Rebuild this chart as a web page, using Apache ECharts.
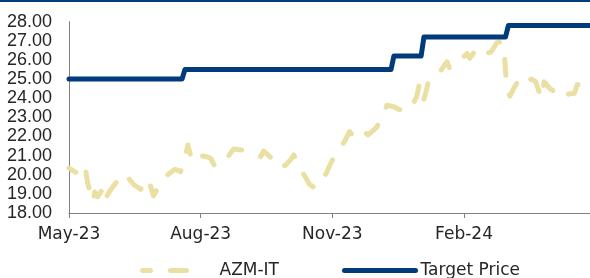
<!DOCTYPE html>
<html>
<head>
<meta charset="utf-8">
<script src="https://cdn.jsdelivr.net/npm/echarts@6/dist/echarts.min.js"></script>
<style>
  html, body { margin: 0; padding: 0; background: #fff; }
  #chart { width: 590px; height: 278px; }
</style>
</head>
<body>
<div id="chart"></div>
<script>
// tick labels on the date axis (every 3 months from May-23)
const tickLabels = ['May-23', 'Aug-23', 'Nov-23', 'Feb-24']
const tickDates = ['2023-05-01', '2023-08-01', '2023-11-01', '2024-02-01']

// AZM-IT share price
const priceDates = [
  '2023-05-01', '2023-05-04', '2023-05-07', '2023-05-09', '2023-05-12', '2023-05-14', '2023-05-16', '2023-05-18',
  '2023-05-19', '2023-05-21', '2023-05-25', '2023-05-26', '2023-05-30', '2023-06-03', '2023-06-06', '2023-06-08',
  '2023-06-11', '2023-06-15', '2023-06-20', '2023-06-24', '2023-06-27', '2023-06-29', '2023-07-02', '2023-07-05',
  '2023-07-09', '2023-07-14', '2023-07-18', '2023-07-20', '2023-07-22', '2023-07-23', '2023-07-26', '2023-07-28',
  '2023-08-01', '2023-08-05', '2023-08-08', '2023-08-11', '2023-08-16', '2023-08-20', '2023-08-24', '2023-08-30',
  '2023-09-03', '2023-09-08', '2023-09-12', '2023-09-14', '2023-09-19', '2023-09-24', '2023-09-26', '2023-09-30',
  '2023-10-03', '2023-10-05', '2023-10-07', '2023-10-09', '2023-10-13', '2023-10-16', '2023-10-20', '2023-10-25',
  '2023-10-28', '2023-10-30', '2023-11-02', '2023-11-05', '2023-11-08', '2023-11-10', '2023-11-13', '2023-11-17',
  '2023-11-20', '2023-11-23', '2023-11-26', '2023-12-02', '2023-12-04', '2023-12-07', '2023-12-09', '2023-12-14',
  '2023-12-18', '2023-12-23', '2023-12-27', '2023-12-30', '2024-01-01', '2024-01-03', '2024-01-04', '2024-01-06',
  '2024-01-07', '2024-01-12', '2024-01-16', '2024-01-20', '2024-01-22', '2024-01-26', '2024-01-29', '2024-02-03',
  '2024-02-05', '2024-02-10', '2024-02-12', '2024-02-16', '2024-02-20', '2024-02-24', '2024-02-27', '2024-02-29',
  '2024-03-01', '2024-03-02', '2024-03-04', '2024-03-07', '2024-03-09', '2024-03-11', '2024-03-14', '2024-03-16',
  '2024-03-19', '2024-03-22', '2024-03-26', '2024-03-28', '2024-04-01', '2024-04-05', '2024-04-08', '2024-04-11',
  '2024-04-14', '2024-04-16', '2024-04-18', '2024-04-20', '2024-04-25'
]
const priceValues = [
  20.35, 20.2, 20.08, 20.3, 20.5, 19.6, 19.0, 18.6,
  19.1, 18.85, 19.3, 18.7, 19.2, 19.6, 19.9, 20.07,
  19.87, 19.5, 19.24, 19.8, 19.4, 18.9, 19.3, 19.7,
  20.0, 20.28, 20.16, 20.68, 21.2, 21.55, 20.7, 20.9,
  21.0, 20.94, 20.86, 20.42, 20.7, 20.94, 21.34, 21.29,
  21.2, 21.12, 20.94, 21.24, 20.9, 20.6, 20.34, 20.55,
  20.8, 21.03, 20.7, 20.34, 19.9, 19.5, 19.29, 19.78,
  20.1, 20.46, 20.9, 21.29, 21.55, 21.81, 22.25, 21.9,
  22.1, 22.25, 22.08, 22.48, 22.8, 23.17, 23.63, 23.55,
  23.4, 23.3, 23.64, 24.1, 24.8, 24.3, 23.95, 24.5,
  24.9, 25.2, 25.47, 25.9, 25.56, 25.7, 25.95, 26.34,
  26.08, 26.6, 26.43, 26.3, 26.43, 26.9, 26.95, 26.5,
  25.4, 24.5, 24.1, 24.55, 24.8, 24.95, 24.7, 24.9,
  25.0, 24.86, 24.0, 24.85, 24.5, 24.3, 24.25, 24.0,
  24.22, 24.25, 24.25, 24.7, 24.78
]

// target price steps
const targetDates = ['2023-05-01', '2023-07-19', '2023-07-21', '2023-12-12', '2023-12-14', '2024-01-02', '2024-01-04', '2024-03-01', '2024-03-03', '2024-04-29']
const targetValues = [25.0, 25.0, 25.5, 25.5, 26.2, 26.2, 27.2, 27.2, 27.8, 27.8]

const DAY = 86400000
const START = Date.parse('2023-05-01')
function dayOf (s) {
  return Math.round((Date.parse(s) - START) / DAY)
}
function pairs (dates, values) {
  return dates.map((d, i) => [dayOf(d), values[i]])
}
const tickDays = tickDates.map(dayOf)

const textColor = '#262626'
const axisColor = '#808080'
const navy = '#023B7B'
const sand = '#EAE0A3'
const sandDash = [16, 20]

const chart = echarts.init(document.getElementById('chart'), null, { renderer: 'canvas' })
chart.setOption({
  animation: false,
  backgroundColor: '#fff',
  graphic: [{
    type: 'rect',
    left: 0,
    top: 0,
    shape: { width: 590, height: 2 },
    style: { fill: navy }
  }],
  grid: {
    left: 69,
    right: 0,
    top: 21.6,
    bottom: 65,
    containLabel: false
  },
  legend: [
    {
      data: ['AZM-IT'],
      left: 140,
      top: 262,
      padding: 0,
      itemWidth: 57,
      itemHeight: 16,
      itemStyle: { opacity: 0 },
      lineStyle: { width: 5, type: sandDash, cap: 'round' },
      textStyle: { color: textColor, fontFamily: 'DejaVu Sans', fontSize: 17, padding: [0, 0, 0, 15] }
    },
    {
      data: ['Target Price'],
      left: 342,
      top: 262,
      padding: 0,
      itemWidth: 71,
      itemHeight: 16,
      itemStyle: { opacity: 0 },
      lineStyle: { width: 5, cap: 'round' },
      textStyle: { color: textColor, fontFamily: 'DejaVu Sans', fontSize: 17 }
    }
  ],
  xAxis: {
    type: 'value',
    min: 0,
    max: dayOf('2024-04-29'),
    splitLine: { show: false },
    axisLine: { lineStyle: { color: axisColor, width: 1 } },
    axisTick: {
      show: true,
      customValues: tickDays,
      length: 5,
      lineStyle: { color: axisColor }
    },
    axisLabel: {
      customValues: tickDays,
      margin: 13,
      color: textColor,
      fontFamily: 'DejaVu Sans',
      fontSize: 17,
      formatter: function (v) {
        const i = tickDays.indexOf(Math.round(v))
        return i >= 0 ? tickLabels[i] : ''
      }
    }
  },
  yAxis: {
    type: 'value',
    min: 18,
    max: 28,
    interval: 1,
    splitLine: { show: false },
    axisLine: { show: true, lineStyle: { color: axisColor, width: 1 } },
    axisTick: { show: false },
    axisLabel: {
      margin: 17,
      color: textColor,
      fontFamily: 'Liberation Sans',
      fontSize: 18,
      formatter: v => v.toFixed(2)
    }
  },
  series: [
    {
      name: 'AZM-IT',
      type: 'line',
      symbol: 'none',
      data: pairs(priceDates, priceValues),
      itemStyle: { color: sand },
      lineStyle: {
        color: sand,
        width: 5,
        type: sandDash,
        dashOffset: 8,
        cap: 'round',
        join: 'round'
      }
    },
    {
      name: 'Target Price',
      type: 'line',
      symbol: 'none',
      data: pairs(targetDates, targetValues),
      itemStyle: { color: navy },
      lineStyle: { color: navy, width: 5, cap: 'round', join: 'round' }
    }
  ]
})
</script>
</body>
</html>
